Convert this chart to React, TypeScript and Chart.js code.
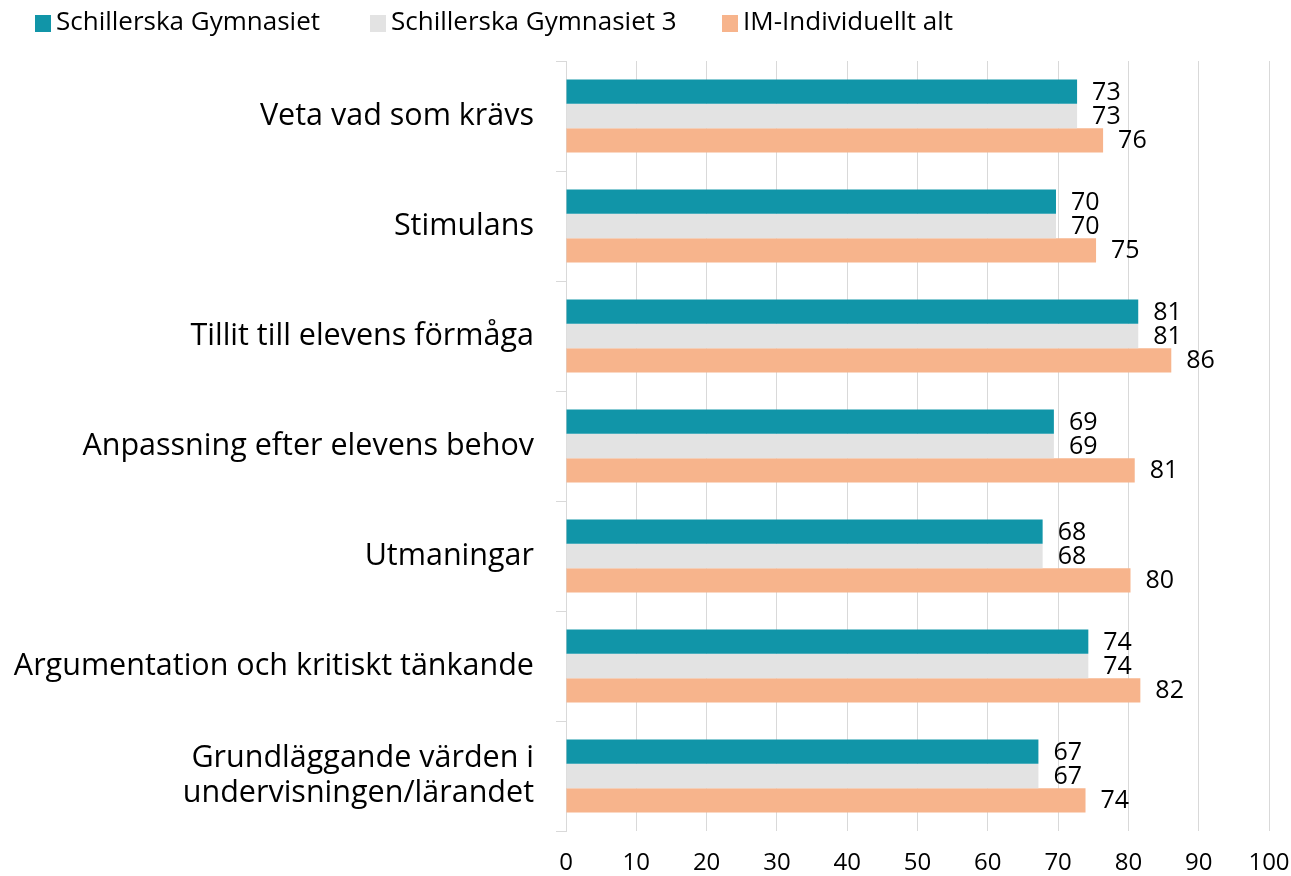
import React, { useEffect, useRef } from "react";
import { Chart, registerables } from "chart.js";

Chart.register(...registerables);

const categories: (string | string[])[] = [
  "Veta vad som krävs",
  "Stimulans",
  "Tillit till elevens förmåga",
  "Anpassning efter elevens behov",
  "Utmaningar",
  "Argumentation och kritiskt tänkande",
  ["Grundläggande värden i", "undervisningen/lärandet"],
];

const seriesNames = ["Schillerska Gymnasiet", "Schillerska Gymnasiet 3", "IM-Individuellt alt"];
const schillerska = [72.7, 69.7, 81.4, 69.4, 67.8, 74.3, 67.2];
const schillerska3 = [72.7, 69.7, 81.4, 69.4, 67.8, 74.3, 67.2];
const imIndividuellt = [76.4, 75.4, 86.1, 80.9, 80.3, 81.7, 73.9];
const seriesColors = ["#1195A8", "#E3E3E3", "#F7B48C"];

const FONT = '"Open Sans", sans-serif';

const valueLabels = {
  id: "valueLabels",
  afterDatasetsDraw(chart: any) {
    const ctx = chart.ctx;
    ctx.save();
    ctx.font = `25px ${FONT}`;
    ctx.fillStyle = "#000";
    ctx.textAlign = "left";
    ctx.textBaseline = "middle";
    chart.data.datasets.forEach((ds: any, di: number) => {
      const meta = chart.getDatasetMeta(di);
      meta.data.forEach((el: any, i: number) => {
        const v = ds.data[i];
        ctx.fillText(String(Math.round(v)), el.x + 15, el.y + 1);
      });
    });
    ctx.restore();
  },
};

const customLegend = {
  id: "customLegend",
  afterDraw(chart: any) {
    const ctx = chart.ctx;
    const starts = [35, 370, 722];
    ctx.save();
    ctx.font = `26px ${FONT}`;
    ctx.textBaseline = "middle";
    ctx.textAlign = "left";
    chart.data.datasets.forEach((ds: any, i: number) => {
      ctx.fillStyle = ds.backgroundColor;
      ctx.fillRect(starts[i], 15, 16, 17);
      ctx.fillStyle = "#000";
      ctx.fillText(ds.label, starts[i] + 21, 23);
    });
    ctx.restore();
  },
};

export default function App() {
  const ref = useRef<HTMLCanvasElement | null>(null);
  useEffect(() => {
    if (!ref.current) return;
    const chart = new Chart(ref.current, {
      type: "bar",
      data: {
        labels: categories,
        datasets: [
          { label: seriesNames[0], data: schillerska, backgroundColor: seriesColors[0] },
          { label: seriesNames[1], data: schillerska3, backgroundColor: seriesColors[1] },
          { label: seriesNames[2], data: imIndividuellt, backgroundColor: seriesColors[2] },
        ],
      },
      options: {
        indexAxis: "y",
        animation: false,
        responsive: false,
        maintainAspectRatio: false,
        datasets: { bar: { categoryPercentage: 0.664, barPercentage: 1 } },
        layout: { padding: { top: 61, left: 0, right: 22, bottom: 0 } },
        plugins: { legend: { display: false }, tooltip: { enabled: false } },
        scales: {
          x: {
            min: 0,
            max: 100,
            ticks: { stepSize: 10, color: "#000", font: { family: FONT, size: 24 }, padding: 0 },
            grid: {
              color: "#D9D9D9",
              lineWidth: 1,
              drawTicks: true,
              tickLength: 18,
              tickColor: "rgba(0,0,0,0)",
            },
            border: { display: false },
            afterFit: (s: any) => { s.height = 45; },
          },
          y: {
            ticks: { color: "#000", font: { family: FONT, size: 30.5, lineHeight: 1.15 }, padding: 22 },
            grid: { offset: true, drawOnChartArea: false, drawTicks: true, tickLength: 10, color: "#D9D9D9" },
            border: { display: true, color: "#D9D9D9" },
            afterFit: (s: any) => { s.width = 566; },
          },
        },
      },
      plugins: [valueLabels, customLegend],
    });
    return () => chart.destroy();
  }, []);
  return (
    <div style={{ position: "fixed", left: 0, top: 0, width: 1291, height: 876, background: "#fff" }}>
      <canvas ref={ref} width={1291} height={876} style={{ display: "block" }} />
    </div>
  );
}
